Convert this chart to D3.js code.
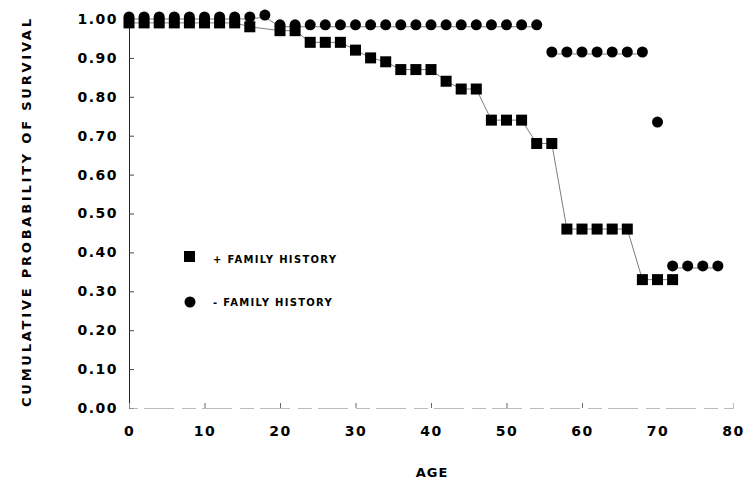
<!doctype html>
<html lang="en">
<head>
    <meta charset="utf-8">
    <title>cumulative probability of survival</title>
    <script src="https://cdn.jsdelivr.net/npm/d3@7"></script>
    <style>
        body { margin: 0; background: #fff; }
        text { font-family: "DejaVu Sans", sans-serif; font-weight: bold; fill: #000; }
    </style>
</head>
<body>
    <svg></svg>
    <script>
        var width = 744;
        var height = 483;

        // + family history (squares)
        var posAges = [0, 2, 4, 6, 8, 10, 12, 14, 16, 20, 22, 24, 26, 28, 30, 32, 34, 36, 38, 40, 42, 44, 46, 48, 50, 52, 54, 56, 58, 60, 62, 64, 66, 68, 70, 72];
        var posSurv = [0.99, 0.99, 0.99, 0.99, 0.99, 0.99, 0.99, 0.99, 0.98, 0.97, 0.97, 0.94, 0.94, 0.94, 0.92, 0.90, 0.89, 0.87, 0.87, 0.87, 0.84, 0.82, 0.82, 0.74, 0.74, 0.74, 0.68, 0.68, 0.46, 0.46, 0.46, 0.46, 0.46, 0.33, 0.33, 0.33];

        // - family history (circles)
        var negAges = [0, 2, 4, 6, 8, 10, 12, 14, 16, 18, 20, 22, 24, 26, 28, 30, 32, 34, 36, 38, 40, 42, 44, 46, 48, 50, 52, 54, 56, 58, 60, 62, 64, 66, 68, 70, 72, 74, 76, 78];
        var negSurv = [1.00, 1.00, 1.00, 1.00, 1.00, 1.00, 1.00, 1.00, 1.00, 1.005, 0.98, 0.98, 0.98, 0.98, 0.98, 0.98, 0.98, 0.98, 0.98, 0.98, 0.98, 0.98, 0.98, 0.98, 0.98, 0.98, 0.98, 0.98, 0.91, 0.91, 0.91, 0.91, 0.91, 0.91, 0.91, 0.73, 0.36, 0.36, 0.36, 0.36];

        var xTicks = [0, 10, 20, 30, 40, 50, 60, 70, 80];
        var yTicks = [0, 0.1, 0.2, 0.3, 0.4, 0.5, 0.6, 0.7, 0.8, 0.9, 1.0];

        var svg = d3.select('svg').attr("width", width).attr("height", height);

        var x = d3.scaleLinear().domain([0, 80]).range([129, 733]);
        var y = d3.scaleLinear().domain([0, 1]).range([408, 19]);

        // y axis, ticks point inward
        var yAxis = svg.append("g")
            .attr("transform", "translate(" + x(0) + ",0)")
            .call(d3.axisLeft(y).tickValues(yTicks).tickSize(-5).tickPadding(11).tickFormat(d3.format(".2f")));
        yAxis.select(".domain").attr("stroke", "#222").attr("stroke-width", 1);
        yAxis.selectAll(".tick line").attr("stroke", "#444");
        yAxis.selectAll(".tick text").attr("font-size", "14px").attr("letter-spacing", "1.5px").attr("font-family", null);

        // x axis, faint baseline
        var xAxis = svg.append("g")
            .attr("transform", "translate(0," + y(0) + ")")
            .call(d3.axisBottom(x).tickValues(xTicks).tickSize(-5).tickPadding(18));
        xAxis.select(".domain").attr("stroke", "#aaa").attr("stroke-width", 0.8).attr("stroke-dasharray", "14,6,30,8");
        xAxis.selectAll(".tick line").attr("stroke", "#666");
        xAxis.selectAll(".tick text").attr("font-size", "14px").attr("letter-spacing", "1.5px").attr("font-family", null);
        xAxis.selectAll(".tick").filter(function (d) { return d === 0 || d >= 70; }).select("line").remove();

        var posData = posAges.map(function (a, i) { return [a, posSurv[i]]; });
        var negData = negAges.map(function (a, i) { return [a, negSurv[i]]; });

        var line = d3.line()
            .x(function (d) { return x(d[0]); })
            .y(function (d) { return y(d[1]); });

        svg.append("path").datum(posData)
            .attr("d", line).attr("fill", "none").attr("stroke", "#444").attr("stroke-width", 0.7);
        svg.append("path").datum(negData.slice(0, 28))
            .attr("d", line).attr("fill", "none").attr("stroke", "#444").attr("stroke-width", 0.7);
        svg.append("path").datum(negData.slice(28, 35))
            .attr("d", line).attr("fill", "none").attr("stroke", "#444").attr("stroke-width", 0.7);
        svg.append("path").datum(negData.slice(36))
            .attr("d", line).attr("fill", "none").attr("stroke", "#444").attr("stroke-width", 0.7);

        var sq = 11;
        svg.selectAll("rect.pos")
            .data(posData)
            .enter()
            .append("rect")
            .attr("class", "pos")
            .attr("x", function (d) { return x(d[0]) - sq / 2; })
            .attr("y", function (d) { return y(d[1]) - sq / 2; })
            .attr("width", sq)
            .attr("height", sq)
            .attr("fill", "#000");

        svg.selectAll("circle.neg")
            .data(negData)
            .enter()
            .append("circle")
            .attr("class", "neg")
            .attr("cx", function (d) { return x(d[0]); })
            .attr("cy", function (d) { return y(d[1]) - 2; })
            .attr("r", 5.5)
            .attr("fill", "#000");

        // legend
        var legend = svg.append("g");
        legend.append("rect").attr("x", 184).attr("y", 251).attr("width", 11).attr("height", 11).attr("fill", "#000");
        legend.append("text").attr("x", 213).attr("y", 263).attr("font-size", "10px").attr("letter-spacing", "1.3px").text("+ FAMILY HISTORY");
        legend.append("circle").attr("cx", 190).attr("cy", 302).attr("r", 5.5).attr("fill", "#000");
        legend.append("text").attr("x", 213).attr("y", 306).attr("font-size", "10px").attr("letter-spacing", "1.3px").text("- FAMILY HISTORY");

        // axis titles
        svg.append("text")
            .attr("transform", "translate(31,213) rotate(-90)")
            .attr("text-anchor", "middle")
            .attr("font-size", "13px")
            .attr("textLength", 388)
            .attr("lengthAdjust", "spacing")
            .text("CUMULATIVE PROBABILITY OF SURVIVAL");

        svg.append("text")
            .attr("x", 432)
            .attr("y", 477)
            .attr("text-anchor", "middle")
            .attr("font-size", "13px")
            .attr("letter-spacing", "1px")
            .text("AGE");
    </script>
</body>
</html>
